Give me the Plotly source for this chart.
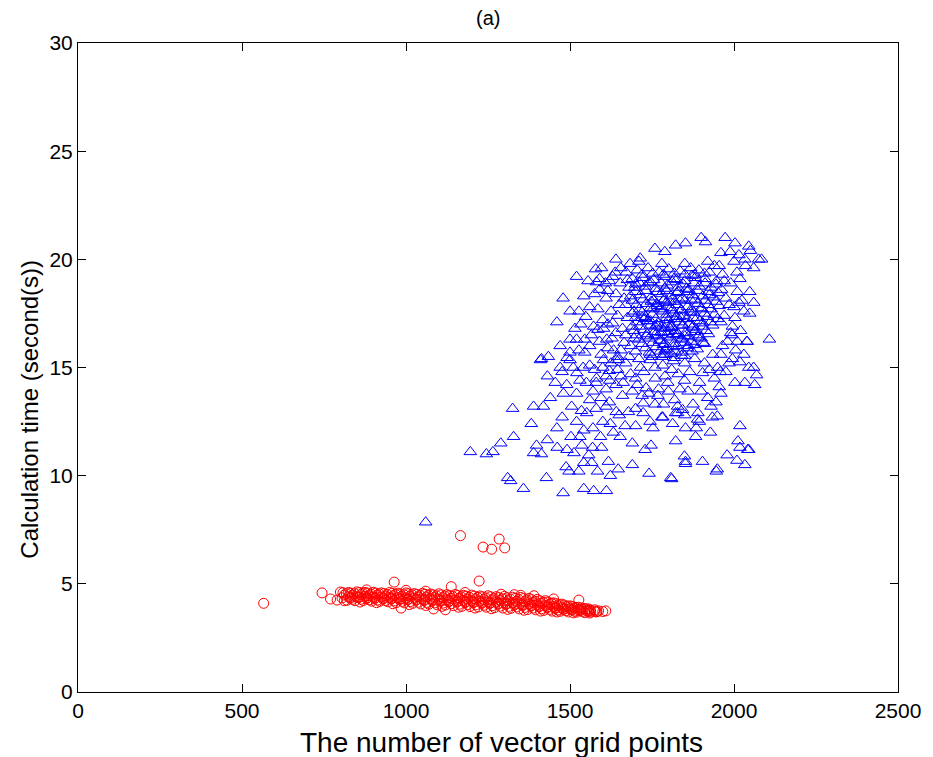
import plotly.graph_objects as go

# ---------------- data ----------------
# Blue triangles: scattered outer points
blue_outer_x = [1060, 1196, 1245, 1265, 1289, 1310, 1319, 1328, 1325, 1358, 1382, 1389, 1398, 1389, 1413,
                1419, 1428, 1431, 1440, 1431, 1413, 1434, 1461, 1476, 1479, 1488, 1491, 1497, 1503, 1512,
                1527, 1530, 1536, 1542, 1542, 1542, 1551, 1557, 1566, 1569, 1572, 1584, 1593, 1596, 1611,
                1617, 1623, 1623, 1632, 1641, 1647, 1653, 1668, 1678, 1690, 1690, 1723, 1729, 1741, 1744,
                1747, 1753, 1783, 1810, 1813, 1822, 1822, 1849, 1852, 1852, 1885, 1894, 1904, 1928, 1934,
                1949, 1949, 1946, 1979, 2009, 2012, 2018, 2018, 2033, 2045, 1807]
blue_outer_y = [7.85, 11.1, 11.0, 11.1, 11.5, 9.9, 9.76, 11.8, 13.1, 9.4, 12.4, 13.2, 11.4, 11.05, 11.0,
                13.2, 9.9, 11.65, 13.6, 14.6, 15.4, 15.5, 11.3, 12.7, 9.2, 10.4, 11.2, 10.2, 11.8, 11.05,
                10.2, 11.8, 11.4, 12.1, 10.6, 9.4, 12.9, 10.95, 10.6, 11.3, 9.3, 10.2, 11.8, 11.3, 9.3,
                10.65, 12.4, 10.0, 12.0, 12.95, 10.3, 11.8, 12.3, 12.95, 11.5, 10.5, 12.9, 11.2, 10.1, 12.5,
                11.4, 12.2, 12.7, 9.85, 12.4, 12.9, 11.6, 10.9, 12.2, 10.65, 12.2, 12.5, 10.65, 12.0, 12.7,
                12.75, 10.3, 10.2, 10.95, 10.7, 11.6, 12.3, 11.3, 10.5, 11.2, 9.9]

# Blue triangles: upper band and mid-left region
blue_mid_x = [1904, 1940, 1958, 2003, 2033, 2063, 2069, 2045, 2018, 1955, 1849, 1798, 1810, 1783, 1759,
              1732, 1723, 1759, 1768, 1819, 1828, 1843, 1828, 1780, 1889, 1883, 2042, 1852,
              1479, 1542, 1527, 1533, 1491, 1410, 1476, 1578, 1596, 1638, 1581, 1608, 1653, 1671, 1683,
              1714, 1759, 1789, 1822, 1852, 1900, 1913, 1973, 2003, 2045, 2084, 1955, 2033, 2015, 1988,
              1590, 1615, 1645, 1660, 1675, 1650, 1625, 1600, 1560, 1575, 1640, 1665, 1685, 1670, 1655,
              1640, 1610, 1595, 1570, 1550, 1520, 1505, 1535, 1580, 1620, 1660, 1690, 1700, 1715, 1560,
              1600, 1500, 1515, 1470, 1455, 1480, 1460, 1520, 1600, 1570, 1572, 1545, 1527, 1602, 1612,
              1633, 1621, 1641, 1500, 1521, 1581,
              1555, 1590, 1620, 1655, 1680, 1610, 1645, 1670, 1695, 1585, 1615, 1640, 1670, 1690, 1565,
              1595, 1625, 1655, 1680, 1545, 1575, 1610, 1645, 1685, 1510, 1490, 1530, 1560, 1610, 1650,
              1700, 1500, 1460, 1520, 1640, 1710, 1780, 1850, 1920, 1960,
              1615, 1630, 1665, 1648, 1602, 1585, 1560, 1630, 1675, 1700, 1695, 1700, 1548, 1590, 1628,
              1662, 1620, 1580, 1540, 1500, 1470, 1520]
blue_mid_y = [14.75, 14.5, 14.8, 14.3, 14.3, 14.2, 14.65, 15.0, 15.25, 14.1, 14.4, 14.3, 14.9, 15.1, 15.0,
              14.05, 13.35, 13.3, 13.7, 13.5, 13.2, 13.05, 12.9, 12.7, 12.6, 11.8, 11.2, 10.55,
              18.2, 18.3, 17.6, 17.0, 15.45, 15.35, 14.8, 19.55, 19.6, 19.4, 18.95, 18.9, 18.9, 19.4, 19.8,
              20.05, 20.5, 20.35, 20.65, 20.75, 21.0, 20.8, 21.0, 20.75, 20.6, 20.0, 19.7, 20.0, 20.2, 20.35,
              16.2, 15.9, 15.5, 16.8, 17.3, 17.9, 17.6, 17.2, 17.8, 18.4, 18.4, 18.2, 16.0, 15.2, 14.6,
              14.2, 14.0, 13.6, 13.9, 14.3, 13.8, 13.2, 13.0, 13.1, 13.4, 13.7, 13.9, 14.5, 15.0, 15.1,
              15.0, 16.3, 16.8, 16.0, 14.3, 13.8, 12.2, 12.5, 12.5, 12.2, 16.9, 16.3, 15.8, 16.8, 16.3,
              15.8, 14.4, 15.35, 15.35, 14.75, 14.5,
              19.0, 18.6, 19.0, 19.6, 18.7, 18.2, 17.4, 17.9, 17.6, 17.7, 17.0, 16.6, 16.5, 16.9, 16.5,
              15.6, 15.2, 15.8, 15.5, 15.7, 14.9, 14.6, 14.9, 14.7, 15.0, 14.2, 14.4, 13.5, 13.2, 12.8,
              12.3, 17.6, 17.1, 19.2, 20.0, 19.9, 19.8, 19.8, 19.9, 20.3,
              18.55, 17.05, 16.15, 15.35, 15.35, 16.75, 16.0, 19.2, 19.05, 18.85, 16.35, 15.75, 17.35, 19.1, 16.35,
              14.3, 14.85, 14.3, 15.0, 15.7, 15.0, 16.3]

# Blue triangles: dense core
blue_core_x = [1705, 1738, 1772, 1801, 1836, 1868, 1893, 1925,
               1690, 1722, 1755, 1788, 1817, 1850, 1882, 1911, 1947,
               1698, 1730, 1762, 1797, 1829, 1861, 1894, 1930, 1962,
               1685, 1715, 1748, 1779, 1808, 1842, 1874, 1905, 1938,
               1702, 1733, 1766, 1794, 1826, 1858, 1889, 1921, 1955,
               1690, 1720, 1751, 1783, 1815, 1845, 1877, 1910, 1940,
               1705, 1737, 1768, 1800, 1833, 1863, 1896, 1928,
               1695, 1726, 1758, 1789, 1821, 1852, 1884, 1915,
               1710, 1741, 1773, 1806, 1838, 1869, 1900,
               1730, 1762, 1795, 1827, 1858, 1888,
               1750, 1785, 1818, 1850,
               1720, 1752, 1785, 1812, 1845, 1876, 1902, 1760, 1790, 1825, 1860, 1795, 1830, 1810, 1778,
               1740, 1870, 1890, 1805, 1835, 1765, 1850, 1815, 1780, 1745, 1800, 1840, 1875, 1820, 1790,
               1720, 1752, 1785, 1818, 1850, 1880, 1910,
               1712, 1745, 1778, 1812, 1845, 1878, 1912, 1945,
               1700, 1732, 1765, 1795, 1825, 1858, 1890, 1922, 1952,
               1690, 1722, 1755, 1788, 1820, 1850, 1882, 1912, 1945,
               1712, 1745, 1775, 1808, 1838, 1870, 1900, 1930,
               1700, 1730, 1762, 1795, 1825, 1857, 1888, 1918, 1950,
               1712, 1745, 1778, 1810, 1842, 1873, 1905, 1935,
               1702, 1735, 1768, 1798, 1830, 1862, 1892, 1922,
               1720, 1752, 1785, 1816, 1848, 1880, 1910,
               1742, 1775, 1808, 1840, 1872,
               1765, 1795, 1832, 1868, 1803, 1842, 1778, 1818, 1855, 1788, 1748, 1728, 1905, 1925, 1880,
               1760, 1733, 1905, 1825, 1872, 1815, 1790, 1745, 1840]
blue_core_y = [19.5, 19.6, 19.4, 19.55, 19.45, 19.6, 19.5, 19.4,
               19.1, 19.15, 19.05, 19.2, 19.1, 19.0, 19.15, 19.1, 19.0,
               18.7, 18.75, 18.65, 18.8, 18.7, 18.6, 18.75, 18.7, 18.6,
               18.3, 18.35, 18.25, 18.4, 18.3, 18.2, 18.35, 18.3, 18.25,
               17.9, 17.95, 17.85, 18.0, 17.9, 17.8, 17.95, 17.9, 17.85,
               17.5, 17.55, 17.45, 17.6, 17.5, 17.4, 17.55, 17.5, 17.45,
               17.1, 17.15, 17.05, 17.2, 17.1, 17.0, 17.15, 17.1,
               16.7, 16.75, 16.65, 16.8, 16.7, 16.6, 16.75, 16.7,
               16.3, 16.35, 16.25, 16.4, 16.3, 16.2, 16.35,
               15.9, 15.95, 15.85, 16.0, 15.9, 15.85,
               15.5, 15.6, 15.45, 15.55,
               17.3, 17.7, 18.1, 17.65, 16.95, 17.3, 17.7, 16.5, 16.1, 16.5, 16.0, 17.0, 18.5, 16.85, 17.8,
               18.9, 18.1, 16.4, 18.05, 17.35, 16.95, 16.45, 16.55, 16.6, 17.15, 16.65, 17.65, 16.9, 15.75, 15.8,
               19.3, 19.35, 19.3, 19.35, 19.3, 19.3, 19.35,
               18.9, 18.95, 18.9, 18.95, 18.85, 18.9, 18.9, 18.85,
               18.5, 18.55, 18.5, 18.55, 18.45, 18.5, 18.55, 18.5, 18.45,
               18.1, 18.15, 18.1, 18.15, 18.05, 18.1, 18.15, 18.1, 18.05,
               17.7, 17.75, 17.7, 17.75, 17.65, 17.7, 17.75, 17.7,
               17.3, 17.35, 17.25, 17.3, 17.35, 17.25, 17.3, 17.35, 17.25,
               16.9, 16.95, 16.85, 16.9, 16.95, 16.85, 16.9, 16.95,
               16.5, 16.55, 16.45, 16.5, 16.55, 16.45, 16.5, 16.55,
               16.1, 16.15, 16.05, 16.1, 16.15, 16.05, 16.1,
               15.7, 15.75, 15.65, 15.7, 15.75,
               17.95, 17.45, 18.15, 17.55, 16.85, 16.35, 16.25, 17.25, 18.65, 18.65, 18.05, 17.25, 17.05, 18.35, 16.65,
               16.9, 16.45, 16.15, 19.05, 19.25, 15.95, 15.6, 15.35, 15.55]

# Blue triangles: right side and lower core
blue_right_x = [1965, 1990, 2010, 1975, 2000, 2030, 1970, 1995, 2020, 1980, 2005, 1960, 1985, 2040, 2048,
                2024, 2048, 2003, 2108, 2039, 1994, 2009, 2018, 2060, 2075, 2050,
                1710, 1745, 1780, 1815, 1850, 1880, 1910, 1935, 1725, 1760, 1790, 1830, 1865, 1895, 1925,
                1950, 1740, 1800, 1860, 1920, 1875, 1890, 1945, 1700,
                1970, 1985, 2015, 1960, 1990, 2010, 1965, 1995, 1975, 2030, 2060, 2060, 2035, 1940, 2000,
                1705, 1770, 1835, 1900, 1720, 1785, 1850, 1930, 1960]
blue_right_y = [19.3, 18.9, 18.5, 18.2, 17.8, 17.6, 17.4, 16.9, 16.7, 16.2, 15.8, 15.6, 15.2, 16.2, 18.5,
                18.1, 17.5, 17.3, 16.3, 16.2, 16.5, 19.4, 19.1, 19.6, 20.0, 20.4,
                15.4, 15.6, 15.5, 15.3, 15.2, 15.4, 15.2, 15.6, 14.8, 14.5, 14.6, 14.7, 14.8, 14.3, 14.9,
                15.0, 13.8, 13.9, 13.9, 13.6, 13.3, 12.9, 13.4, 13.1,
                19.0, 17.9, 18.0, 17.1, 16.6, 16.2, 16.0, 15.4, 14.8, 15.6, 15.0, 18.0, 19.7, 19.7, 19.9,
                14.2, 14.0, 14.0, 13.9, 13.7, 13.3, 12.8, 13.2, 13.8]

# Red circles: isolated points
red_outer_x = [566, 744, 770, 790, 812, 964, 1138, 1166, 1223, 1235, 1261, 1284, 1301, 1527, 1609, 985, 1084, 1120,
               1000, 1060, 1180, 1290, 1350, 1450, 1330, 1390, 880]
red_outer_y = [4.1, 4.58, 4.3, 4.25, 4.22, 5.08, 4.87, 7.23, 5.13, 6.7, 6.6, 7.07, 6.66, 4.25, 3.75, 3.88, 3.84, 3.8,
               4.7, 4.66, 4.6, 4.52, 4.47, 4.3, 4.5, 4.45, 4.72]

# Red circles: dense band (rows)
red_band_x = [800, 825, 850, 875, 900, 925, 950, 975, 1000, 1025, 1050, 1075, 1100, 1125, 1150, 1175,
              1200, 1225, 1250, 1275, 1300, 1325, 1350, 1375, 1400, 1425, 1450, 1475, 1500, 1525, 1550, 1575,
              812, 837, 862, 887, 912, 937, 962, 987, 1012, 1037, 1062, 1087, 1112, 1137, 1162, 1187,
              1212, 1237, 1262, 1287, 1312, 1337, 1362, 1387, 1412, 1437, 1462, 1487, 1512, 1537, 1562, 1587,
              805, 830, 855, 880, 905, 930, 955, 980, 1005, 1030, 1055, 1080, 1105, 1130, 1155, 1180,
              1205, 1230, 1255, 1280, 1305, 1330, 1355, 1380, 1405, 1430, 1455, 1480, 1505, 1530, 1555, 1580, 1600,
              820, 845, 870, 895, 920, 945, 970, 995, 1020, 1045, 1070, 1095, 1120, 1145, 1170, 1195,
              1220, 1245, 1270, 1295, 1320, 1345, 1370, 1395, 1420, 1445, 1470, 1495, 1520, 1545,
              818, 843, 868, 893, 918, 943, 968, 993, 1018, 1043, 1068, 1093, 1118, 1143, 1168, 1193,
              1218, 1243, 1268, 1293, 1318, 1343, 1368, 1393, 1418, 1443, 1468, 1493, 1518, 1543,
              825, 850, 875, 900, 925, 950, 975, 1000, 1025, 1050, 1075, 1100, 1125, 1150, 1175, 1200,
              1225, 1250, 1275, 1300, 1325, 1350, 1375, 1400, 1425, 1450, 1475, 1500, 1525, 1550, 1575,
              838, 863, 888, 913, 938, 963, 988, 1013, 1038, 1063, 1088, 1113, 1138, 1163, 1188, 1213,
              1238, 1263, 1288, 1313, 1338, 1363, 1388, 1413, 1438, 1463, 1488, 1513, 1538, 1563,
              808, 833, 858, 883, 908, 933, 958, 983, 1008, 1033, 1058, 1083, 1108, 1133, 1158, 1183,
              1208, 1233, 1258, 1283, 1308, 1333, 1358, 1383, 1408, 1433, 1458, 1483, 1508, 1533, 1558,
              832, 857, 882, 907, 932, 957, 982, 1007, 1032, 1057, 1082, 1107, 1132, 1157, 1182, 1207,
              1232, 1257, 1282, 1307, 1332, 1357, 1382, 1407, 1432, 1457, 1482, 1507, 1532, 1557, 1582,
              860, 910, 960, 1010, 1060, 1110, 1160, 1210, 1260, 1310, 1360, 1410, 1460, 1510, 1560]
red_band_y = [4.62, 4.6, 4.63, 4.6, 4.61, 4.58, 4.6, 4.57, 4.58, 4.55, 4.56, 4.53, 4.54, 4.5, 4.51, 4.47,
              4.48, 4.44, 4.45, 4.41, 4.42, 4.38, 4.37, 4.33, 4.28, 4.22, 4.12, 4.06, 3.98, 3.92, 3.85, 3.8,
              4.48, 4.47, 4.5, 4.46, 4.47, 4.44, 4.45, 4.42, 4.43, 4.4, 4.39, 4.37, 4.36, 4.33, 4.33, 4.3,
              4.3, 4.27, 4.26, 4.23, 4.22, 4.19, 4.18, 4.14, 4.1, 4.05, 3.99, 3.94, 3.88, 3.83, 3.78, 3.75,
              4.35, 4.33, 4.36, 4.32, 4.32, 4.3, 4.3, 4.27, 4.27, 4.24, 4.23, 4.21, 4.2, 4.17, 4.16, 4.13,
              4.13, 4.1, 4.09, 4.06, 4.05, 4.02, 4.0, 3.97, 3.94, 3.9, 3.86, 3.82, 3.79, 3.76, 3.72, 3.7, 3.72,
              4.24, 4.22, 4.23, 4.2, 4.19, 4.17, 4.13, 4.12, 4.1, 4.07, 4.06, 4.03, 4.02, 3.99, 3.96, 3.95,
              3.93, 3.92, 3.9, 3.88, 3.87, 3.84, 3.81, 3.8, 3.77, 3.74, 3.73, 3.7, 3.69, 3.67,
              4.55, 4.55, 4.57, 4.53, 4.54, 4.51, 4.52, 4.5, 4.5, 4.47, 4.47, 4.45, 4.44, 4.41, 4.41, 4.38,
              4.38, 4.35, 4.34, 4.31, 4.3, 4.27, 4.26, 4.2, 4.15, 4.1, 4.03, 3.97, 3.9, 3.86,
              4.41, 4.4, 4.42, 4.39, 4.39, 4.37, 4.36, 4.34, 4.34, 4.31, 4.3, 4.28, 4.27, 4.24, 4.23, 4.21,
              4.2, 4.17, 4.16, 4.13, 4.12, 4.09, 4.07, 4.03, 3.99, 3.95, 3.9, 3.85, 3.81, 3.78, 3.74,
              4.28, 4.29, 4.26, 4.25, 4.23, 4.21, 4.19, 4.18, 4.15, 4.14, 4.12, 4.11, 4.08, 4.06, 4.04, 4.03,
              4.01, 3.99, 3.97, 3.96, 3.93, 3.91, 3.88, 3.85, 3.82, 3.79, 3.76, 3.74, 3.72, 3.7,
              4.59, 4.57, 4.6, 4.57, 4.57, 4.55, 4.56, 4.53, 4.54, 4.51, 4.52, 4.49, 4.49, 4.46, 4.46, 4.43,
              4.43, 4.4, 4.4, 4.36, 4.36, 4.33, 4.32, 4.27, 4.22, 4.16, 4.08, 4.02, 3.95, 3.89, 3.83,
              4.38, 4.39, 4.36, 4.36, 4.34, 4.33, 4.31, 4.3, 4.28, 4.27, 4.25, 4.24, 4.21, 4.2, 4.17, 4.16,
              4.14, 4.13, 4.1, 4.09, 4.06, 4.04, 4.0, 3.97, 3.93, 3.89, 3.84, 3.81, 3.78, 3.75, 3.72,
              4.16, 4.13, 4.08, 4.04, 4.0, 3.96, 3.92, 3.88, 3.85, 3.82, 3.78, 3.74, 3.7, 3.66, 3.65]

x_ticks = [0, 500, 1000, 1500, 2000, 2500]
y_ticks = [0, 5, 10, 15, 20, 25, 30]

# ---------------- figure ----------------
blue_x = blue_outer_x + blue_mid_x + blue_core_x + blue_right_x
blue_y = blue_outer_y + blue_mid_y + blue_core_y + blue_right_y
red_x = red_outer_x + red_band_x
red_y = red_outer_y + red_band_y

FONT = "Arial, Liberation Sans, sans-serif"

fig = go.Figure()
fig.add_trace(go.Scatter(
    x=blue_x, y=blue_y, mode="markers", showlegend=False,
    marker=dict(symbol="triangle-up-open", size=11, color="#0000ff", line=dict(width=1, color="#0000ff")),
))
fig.add_trace(go.Scatter(
    x=red_x, y=red_y, mode="markers", showlegend=False,
    marker=dict(symbol="circle-open", size=10, color="#ff0000", line=dict(width=1, color="#ff0000")),
))

axis_common = dict(
    showgrid=False, zeroline=False, showline=True, linecolor="black", linewidth=1,
    mirror="ticks", ticks="inside", ticklen=8, tickcolor="black", tickwidth=1,
    tickfont=dict(family=FONT, size=21, color="black"),
)

fig.update_layout(
    width=933, height=757,
    margin=dict(l=78, r=26, t=43, b=65),
    paper_bgcolor="white", plot_bgcolor="white",
    xaxis=dict(range=[0, 2500], tickvals=x_ticks, ticktext=[str(v) for v in x_ticks], **axis_common),
    yaxis=dict(range=[0, 30], tickvals=y_ticks, ticktext=[str(v) for v in y_ticks], **axis_common),
    annotations=[
        dict(text="(a)", xref="paper", yref="paper", x=0.5, y=1.0, yshift=25, showarrow=False,
             xanchor="center", yanchor="middle", font=dict(family=FONT, size=20, color="black")),
        dict(text="The number of vector grid points", xref="paper", yref="paper", x=0.517, y=0,
             yshift=-50, showarrow=False, xanchor="center", yanchor="middle",
             font=dict(family=FONT, size=28, color="black")),
        dict(text="Calculation time (second(s))", xref="paper", yref="paper", x=0, y=0.435,
             xshift=-48, showarrow=False, textangle=-90, xanchor="center", yanchor="middle",
             font=dict(family=FONT, size=24, color="black")),
    ],
)

fig.write_html("out.html")
